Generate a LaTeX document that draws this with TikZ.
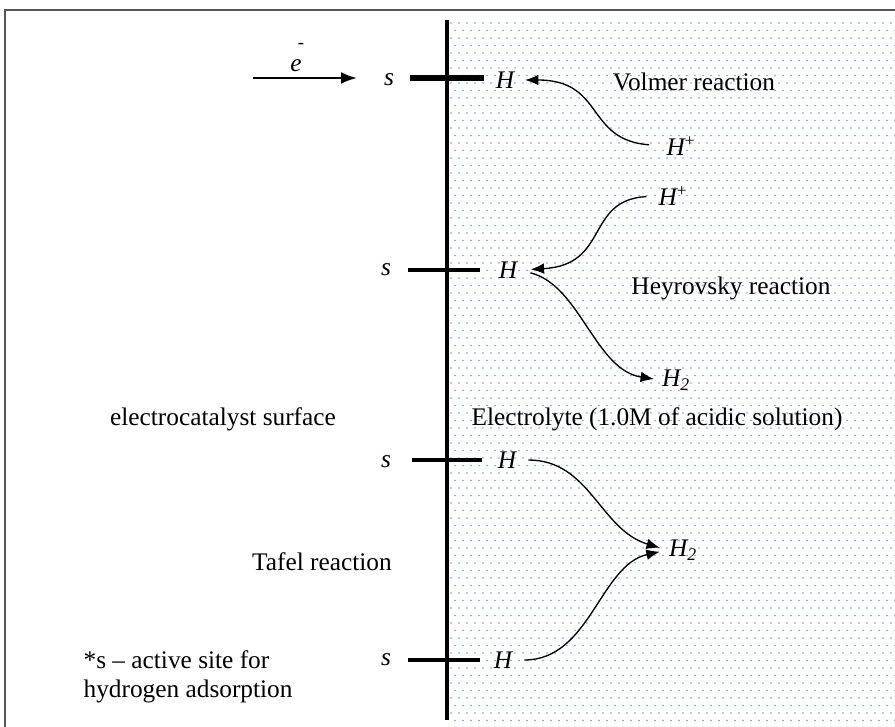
\documentclass[tikz,border=0pt]{standalone}
\usepackage{fontspec}
\setmainfont{Liberation Serif}
\usetikzlibrary{arrows.meta}

\definecolor{dotblue}{RGB}{110,160,225}
\definecolor{framegray}{RGB}{85,85,85}

\begin{document}
\begin{tikzpicture}[
    x=0.75pt, y=-0.75pt,
    every node/.style={font=\fontsize{19}{22}\selectfont, inner sep=1pt},
    atom/.style={font=\fontsize{19}{22}\selectfont\itshape},
    site/.style={line width=3pt},
    react/.style={-{Latex[length=10pt,width=8pt]}, line width=1pt},
    feed/.style={-{Latex[length=12pt,width=9pt]}, line width=1.8pt}
]
\useasboundingbox (0,0) rectangle (895,727);

% frame
\draw[framegray, line width=1.5pt] (5,740) -- (5,10) -- (900,10);

% electrolyte side (dotted)
\begin{scope}
\clip (449,20) rectangle (895,727);
\foreach \j in {0,...,94} {
  \pgfmathsetmacro\off{mod(\j,2)*4}
  \foreach \i in {0,...,56}
    \fill[dotblue] (451+\off+8*\i, 23+7.5*\j) circle (0.7pt);
}
\end{scope}

% electrode surface
\draw[line width=3pt] (447,20) -- (447,720);

% active sites
\draw[site, line width=4pt] (410,78) -- (484,78);
\draw[site] (408,270) -- (480,270);
\draw[site] (412,460) -- (482,460);
\draw[site] (408,660) -- (480,660);

\node[atom] (s1) at (389,80) {s};
\node[atom] (s2) at (386,270) {s};
\node[atom] (s3) at (386,462) {s};
\node[atom] (s4) at (386,660) {s};

\node[atom] (h1) at (505,80) {H};
\node[atom] (h2) at (508,270) {H};
\node[atom] (h3) at (507,460) {H};
\node[atom] (h4) at (503,660) {H};

% electron
\coordinate (e0) at (253,78);
\coordinate (e1) at (357,78);
\draw[feed] (e0) -- (e1);
\node[atom] (el) at (296,66) {e};
\node (elminus) at (301,46) {\fontsize{14}{14}\selectfont -};

% Volmer
\node[atom] (hp1) at (681,146) {H\textsuperscript{\upshape\fontsize{13}{13}\selectfont +}};
\draw[react, shorten <=12pt, shorten >=7pt] (hp1.west) .. controls (585,140) and (605,80) .. (h1.east);
\node (volmer) at (694,82) {Volmer reaction};

% Heyrovsky
\node[atom] (hp2) at (673,196) {H\textsuperscript{\upshape\fontsize{13}{13}\selectfont +}};
\node[atom] (hh2) at (676,380) {H\textsubscript{2}};
\draw[react, shorten <=8pt, shorten >=9pt] (hp2.west) .. controls (585,200) and (610,265) .. (h2.east);
\draw[react, shorten <=9pt, shorten >=5pt] (h2.east) .. controls (580,285) and (595,370) .. (hh2.west);
\node (heyrovsky) at (731,288) {Heyrovsky reaction};

\node (electrolyte) at (657,419) {Electrolyte (1.0M of acidic solution)};
\node (surface) at (223,419) {electrocatalyst surface};

% Tafel
\node[atom] (ht) at (683,550) {H\textsubscript{2}};
\draw[react, shorten <=8pt, shorten >=6pt] (h3.east) .. controls (590,460) and (600,530) .. (ht.west);
\draw[react, shorten <=8pt, shorten >=6pt] (h4.east) .. controls (590,660) and (600,565) .. (ht.west);
\node (tafel) at (322,562) {Tafel reaction};

\node[anchor=west, align=left, font=\fontsize{19}{22}\selectfont] (note) at (82,677) {*s -- active site for\\hydrogen adsorption};

\end{tikzpicture}
\end{document}
